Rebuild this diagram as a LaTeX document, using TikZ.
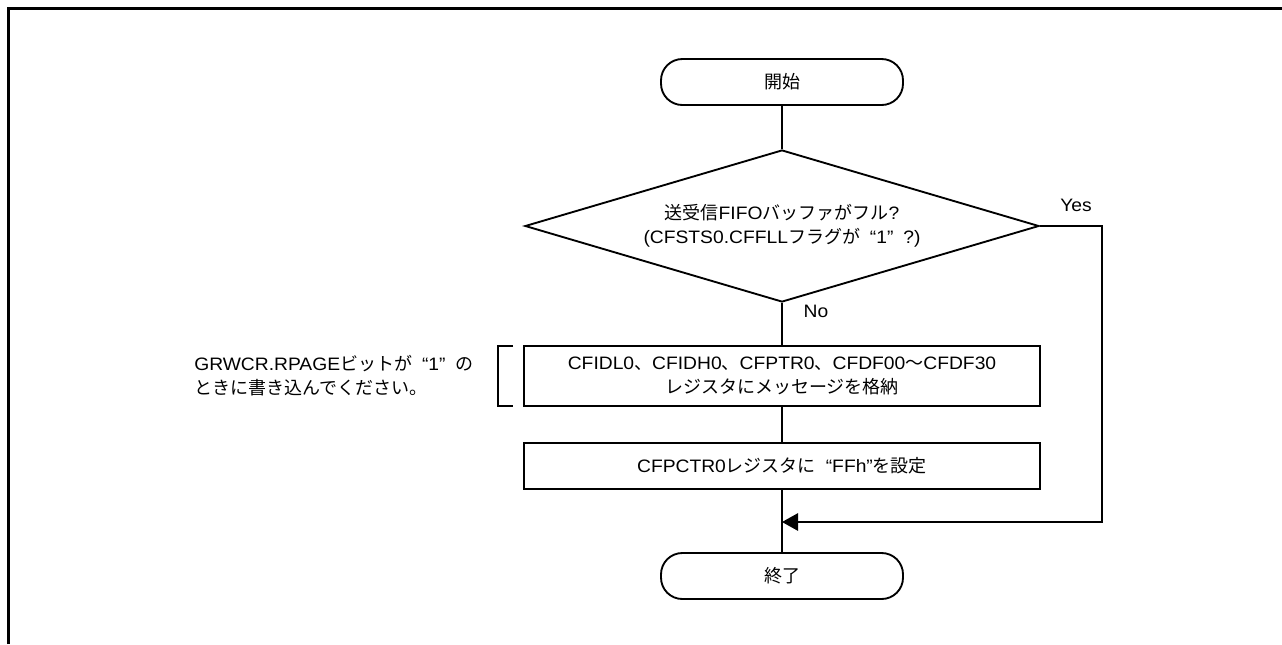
\documentclass[tikz,border=0pt]{standalone}
\usepackage{fontspec}
\setmainfont[FakeStretch=1.07]{Liberation Sans}
\newfontfamily\jpf{Noto Sans CJK JP}
\newcommand\J[1]{{\jpf #1}}
\newcommand\qsp{\kern0.55em}
\usetikzlibrary{arrows.meta,shapes.geometric}
\begin{document}
\begin{tikzpicture}[x=0.75pt,y=-0.75pt,
  every node/.style={font=\fontsize{13.5}{18}\selectfont, inner sep=0pt},
  conn/.style={line width=1.4pt},
  term/.style={draw, line width=1.4pt, rectangle, rounded corners=16pt, minimum width=181.5pt, minimum height=34.5pt},
  proc/.style={draw, line width=1.4pt, rectangle, minimum width=387pt, align=center},
  decis/.style={draw, line width=1.4pt, diamond, aspect=3.38, minimum width=385.5pt, minimum height=114pt, align=center},
  lbl/.style={font=\fontsize{13.5}{16}\selectfont}
]
\useasboundingbox (0,0) rectangle (1282,644);
\draw[line width=2.25pt] (8.5,644) -- (8.5,8.5) -- (1282,8.5);

\node[term] (start) at (782,82) {\J{開始}};
\node[decis] (dia) at (782,226) {\J{送受信}FIFO\J{バッファがフル}?\\(CFSTS0.CFFLL\J{フラグが}\qsp“1”\qsp?)};
\node[proc, minimum height=45pt] (b1) at (782,376) {CFIDL0\J{、}CFIDH0\J{、}CFPTR0\J{、}CFDF00\J{～}CFDF30\\\J{レジスタにメッセージを格納}};
\node[proc, minimum height=34.5pt] (b2) at (782,466) {CFPCTR0\J{レジスタに}\qsp“FFh”\J{を設定}};
\node[term] (end) at (782,576) {\J{終了}};

\coordinate (merge) at (782,522);
\coordinate (yc) at (1102,226);
\coordinate (bt) at (513,346);
\coordinate (bb) at (513,406);

\draw[conn] (start) -- (dia);
\draw[conn] (dia) -- (b1);
\draw[conn] (b1) -- (b2);
\draw[conn] (b2) -- (end);
\draw[conn,-{Triangle[length=12pt,width=13pt]}] (dia.east) -- (yc) |- (merge);
\draw[conn] (bt) -- ++(-15,0) |- (bb);

\node[lbl] (yes) at (1076,205) {Yes};
\node[lbl] (no) at (816,311) {No};
\node[align=left, anchor=west] (cmt) at (194,376) {GRWCR.RPAGE\J{ビットが}\qsp“1”\qsp\J{の}\\\J{ときに書き込んでください。}};
\end{tikzpicture}
\end{document}
